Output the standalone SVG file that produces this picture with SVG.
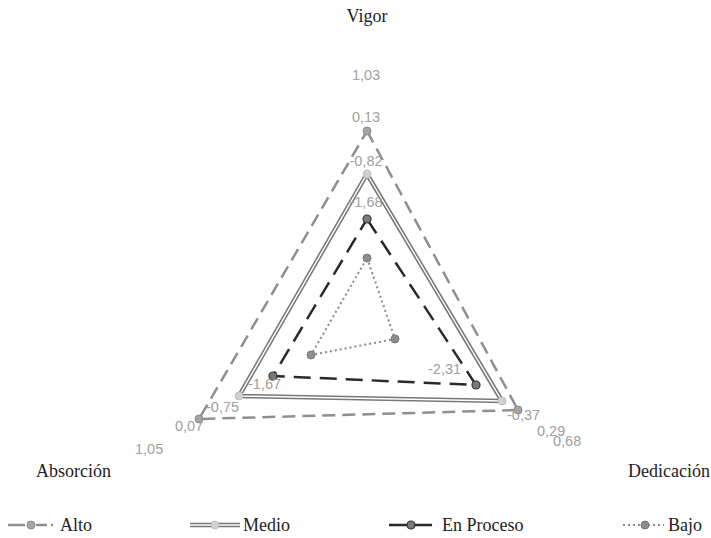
<svg xmlns="http://www.w3.org/2000/svg" width="711" height="538" viewBox="0 0 711 538">
<style>
.ax{font-family:"Liberation Serif","Times New Roman",serif;font-size:18px;fill:#222}
.lg{font-family:"Liberation Serif","Times New Roman",serif;font-size:18px;fill:#222}
.dl{font-family:"Liberation Sans",Arial,sans-serif;font-size:14.5px;fill:#a0a0a0}
.alto{fill:none;stroke:#8f8f8f;stroke-width:2.5;stroke-dasharray:13 7}
.medio-o{fill:none;stroke:#777777;stroke-width:4.5;stroke-linejoin:miter}
.medio-i{fill:none;stroke:#ffffff;stroke-width:1.4;stroke-linejoin:miter}
.proc{fill:none;stroke:#2a2a2a;stroke-width:2.5;stroke-dasharray:17 9}
.bajo{fill:none;stroke:#8a8a8a;stroke-width:2;stroke-dasharray:2 3}
.m-alto{fill:#a5a5a5;stroke:#8a8a8a;stroke-width:1}
.m-medio{fill:#d0d0d0;stroke:#c0c0c0;stroke-width:1}
.m-proc{fill:#7a7a7a;stroke:#333;stroke-width:1.2}
.m-bajo{fill:#8e8e8e;stroke:#7a7a7a;stroke-width:1}
</style>
<rect width="711" height="538" fill="#fff"/>
<g id="axis-labels">
<text class="ax" x="367" y="22" text-anchor="middle">Vigor</text>
<text class="ax" x="36" y="477">Absorción</text>
<text class="ax" x="710" y="477" text-anchor="end">Dedicación</text>
</g>
<g id="connectors">
<polygon id="alto" class="alto" points="367,131 518,410 199,419"/>
<polygon class="medio-o" points="367,174 502,401 239,396"/>
<polygon class="medio-i" points="367,174 502,401 239,396"/>
<polygon id="proceso" class="proc" points="367,219 476,385 273,376"/>
<polygon id="bajo" class="bajo" points="367,258 395,339 311,355"/>
</g>
<g id="markers">
<circle class="m-alto" cx="367" cy="131" r="4"/>
<circle class="m-alto" cx="518" cy="410" r="4"/>
<circle class="m-alto" cx="199" cy="419" r="4"/>
<circle class="m-medio" cx="367" cy="174" r="4"/>
<circle class="m-medio" cx="502" cy="401" r="4"/>
<circle class="m-medio" cx="239" cy="396" r="4"/>
<circle class="m-proc" cx="367" cy="219" r="4"/>
<circle class="m-proc" cx="476" cy="385" r="4"/>
<circle class="m-proc" cx="273" cy="376" r="4"/>
<circle class="m-bajo" cx="367" cy="258" r="4"/>
<circle class="m-bajo" cx="395" cy="339" r="4"/>
<circle class="m-bajo" cx="311" cy="355" r="4"/>
</g>
<g id="data-labels">
<text class="dl" x="366" y="80" text-anchor="middle">1,03</text>
<text class="dl" x="366" y="122" text-anchor="middle">0,13</text>
<text class="dl" x="366" y="166" text-anchor="middle">-0,82</text>
<text class="dl" x="366" y="207" text-anchor="middle">-1,68</text>
<text class="dl" x="248" y="389">-1,67</text>
<text class="dl" x="206" y="412">-0,75</text>
<text class="dl" x="175" y="431">0,07</text>
<text class="dl" x="135" y="454">1,05</text>
<text class="dl" x="428" y="374">-2,31</text>
<text class="dl" x="507" y="420">-0,37</text>
<text class="dl" x="537" y="436">0,29</text>
<text class="dl" x="553" y="446">0,68</text>
</g>
<g id="legend">
<g id="legend-alto">
<path d="M8 525H25M36 525H47M51 525H53" fill="none" stroke="#8f8f8f" stroke-width="2.5"/>
<circle class="m-alto" cx="31" cy="525" r="4"/>
<text class="lg" x="60" y="531">Alto</text>
</g>
<g id="legend-medio">
<line class="medio-o" x1="190" y1="525" x2="240" y2="525"/>
<line class="medio-i" x1="190" y1="525" x2="240" y2="525"/>
<circle class="m-medio" cx="215" cy="525" r="4"/>
<text class="lg" x="243" y="531">Medio</text>
</g>
<g id="legend-proceso">
<line x1="389" y1="525" x2="432" y2="525" stroke="#2a2a2a" stroke-width="2.5"/>
<circle class="m-proc" cx="411" cy="525" r="4"/>
<text class="lg" x="442" y="531">En Proceso</text>
</g>
<g id="legend-bajo">
<line class="bajo" x1="623" y1="525" x2="664" y2="525"/>
<circle class="m-bajo" cx="645" cy="525" r="4"/>
<text class="lg" x="668" y="531">Bajo</text>
</g>
</g>
</svg>
